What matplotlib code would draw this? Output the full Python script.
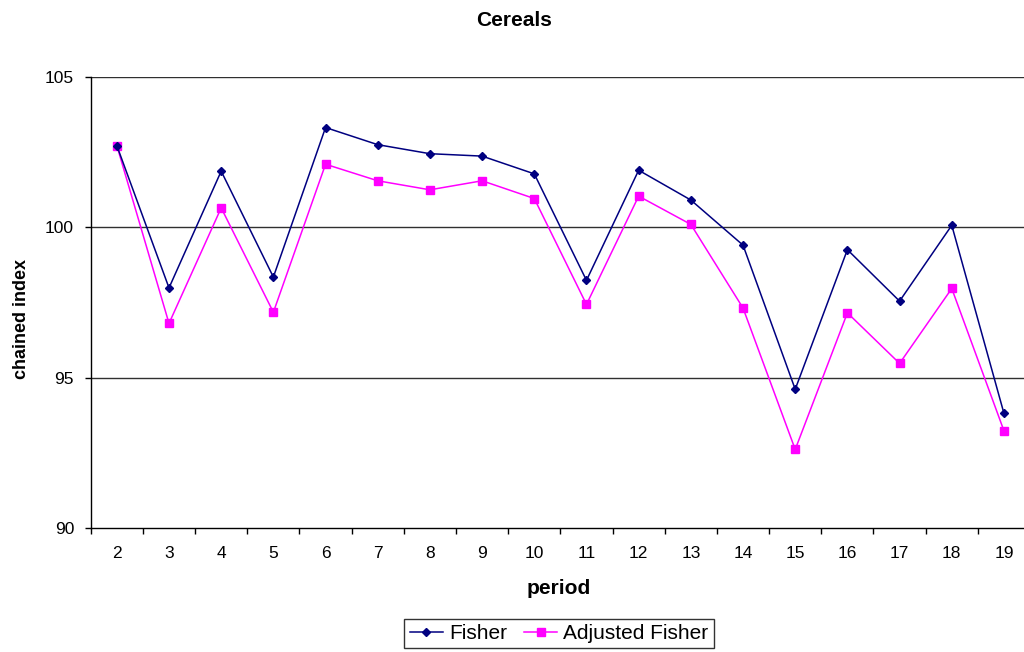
import numpy as np
import matplotlib
matplotlib.use('Agg')
from matplotlib import pyplot as plt

#%% data

periods  = [2, 3, 4, 5, 6, 7, 8, 9, 10, 11, 12, 13, 14, 15, 16, 17, 18, 19]
fisher   = [102.71, 97.98, 101.86, 98.34, 103.31, 102.74, 102.44, 102.36, 101.77,
            98.23, 101.89, 100.90, 99.40, 94.61, 99.25, 97.54, 100.06, 93.81]
adjusted = [102.71, 96.80, 100.64, 97.17, 102.09, 101.54, 101.24, 101.54, 100.95,
            97.43, 101.03, 100.09, 97.31, 92.61, 97.15, 95.47, 97.96, 93.23]
yticks   = [90, 95, 100, 105]

#%% plot

plt.rcParams['font.family'] = ['Liberation Sans', 'DejaVu Sans']

fig = plt.figure(figsize=(10.24, 6.52), dpi=100)
ax = fig.add_axes([0.0886, 0.1902, 0.9173, 0.6922])

x = np.arange(len(periods))
ax.plot(x, fisher, color='#000080', lw=1.1, marker='D', ms=4.2,
        label='Fisher', zorder=3)
ax.plot(x, adjusted, color='#FF00FF', lw=1.1, marker='s', ms=5.5,
        label='Adjusted Fisher', zorder=2)

ax.set_xlim(-0.5, len(periods) - 0.5)
ax.set_ylim(90, 105)
ax.set_yticks(yticks)
ax.set_xticks(x)
ax.set_xticklabels([str(p) for p in periods])
ax.set_xticks(np.arange(len(periods) + 1) - 0.5, minor=True)

for y in yticks[1:]:
    ax.axhline(y, color='#303030', lw=1.0, zorder=1)

ax.spines['top'].set_visible(False)
ax.spines['right'].set_visible(False)
for s in ('left', 'bottom'):
    ax.spines[s].set_color('black')
    ax.spines[s].set_linewidth(1.0)

ax.tick_params(axis='x', which='major', length=0, pad=13, labelsize=12.5)
ax.tick_params(axis='x', which='minor', length=4, width=1, direction='out')
ax.tick_params(axis='y', length=4, width=1, direction='out', pad=8, labelsize=12.5)

fig.text(0.502, 0.969, 'Cereals', ha='center', va='center',
         fontsize=15, fontweight='bold')
fig.text(0.5455, 0.098, 'period', ha='center', va='center',
         fontsize=15, fontweight='bold')
fig.text(0.021, 0.51, 'chained index', ha='center', va='center',
         rotation=90, fontsize=13, fontweight='bold')

leg = fig.legend(loc='center', bbox_to_anchor=(0.546, 0.0285), ncol=2,
                 fontsize=15, frameon=True, fancybox=False, handlelength=1.6,
                 handletextpad=0.3, columnspacing=0.8, borderpad=0.25,
                 borderaxespad=0)
leg.get_frame().set_edgecolor('black')
leg.get_frame().set_linewidth(1.0)

fig.savefig('out.png', dpi=100)
